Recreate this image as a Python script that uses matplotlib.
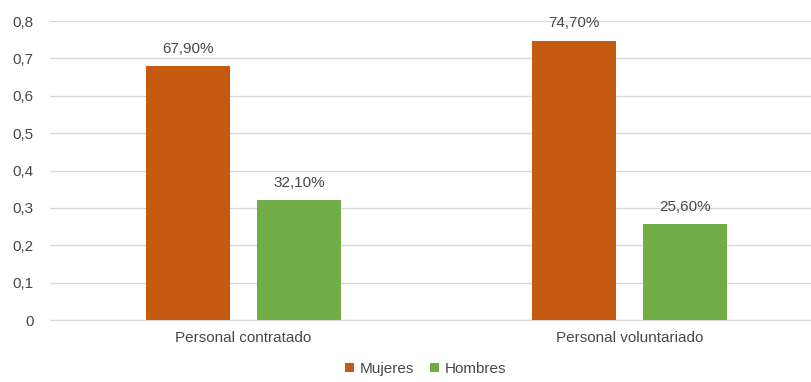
import matplotlib.pyplot as plt
import numpy as np

plt.rcParams['font.family'] = ['Liberation Sans', 'DejaVu Sans']

categorias = ['Personal contratado', 'Personal voluntariado']
mujeres = [0.679, 0.747]
hombres = [0.321, 0.256]
etiquetas_mujeres = ['67,90%', '74,70%']
etiquetas_hombres = ['32,10%', '25,60%']
yticks = [0, 0.1, 0.2, 0.3, 0.4, 0.5, 0.6, 0.7, 0.8]
yticklabels = ['0', '0,1', '0,2', '0,3', '0,4', '0,5', '0,6', '0,7', '0,8']

naranja = '#C55A11'
verde = '#70AD47'
texto = '#484848'
fs = 11

fig = plt.figure(figsize=(8.11, 3.82), dpi=100)
ax = fig.add_axes([0.062, 0.162, 0.952, 0.783])

x = np.arange(len(categorias))
w = 0.218
off = 0.144
b1 = ax.bar(x - off, mujeres, w, color=naranja, label='Mujeres', zorder=3)
b2 = ax.bar(x + off, hombres, w, color=verde, label='Hombres', zorder=3)

for rect, lab in zip(list(b1) + list(b2), etiquetas_mujeres + etiquetas_hombres):
    ax.text(rect.get_x() + rect.get_width() / 2, rect.get_height() + 0.028, lab,
            ha='center', va='bottom', fontsize=fs, color=texto)

ax.set_xlim(-0.5, 1.5)
ax.set_ylim(0, 0.8)
ax.set_yticks(yticks)
ax.set_yticklabels(yticklabels)
ax.set_xticks(x)
ax.set_xticklabels(categorias)
ax.tick_params(axis='both', length=0, labelsize=fs, colors=texto)
ax.tick_params(axis='y', pad=12)
ax.tick_params(axis='x', pad=8)
ax.yaxis.grid(True, color='#D9D9D9', linewidth=1, zorder=0)
for s in ['top', 'right', 'left']:
    ax.spines[s].set_visible(False)
ax.spines['bottom'].set_color('#D9D9D9')

fig.legend(loc='lower center', bbox_to_anchor=(0.525, -0.02), ncol=2, frameon=False,
           fontsize=fs, handlelength=0.6, handleheight=0.6, columnspacing=1.0,
           handletextpad=0.4, labelcolor=texto)

fig.savefig('out.png', dpi=100)
